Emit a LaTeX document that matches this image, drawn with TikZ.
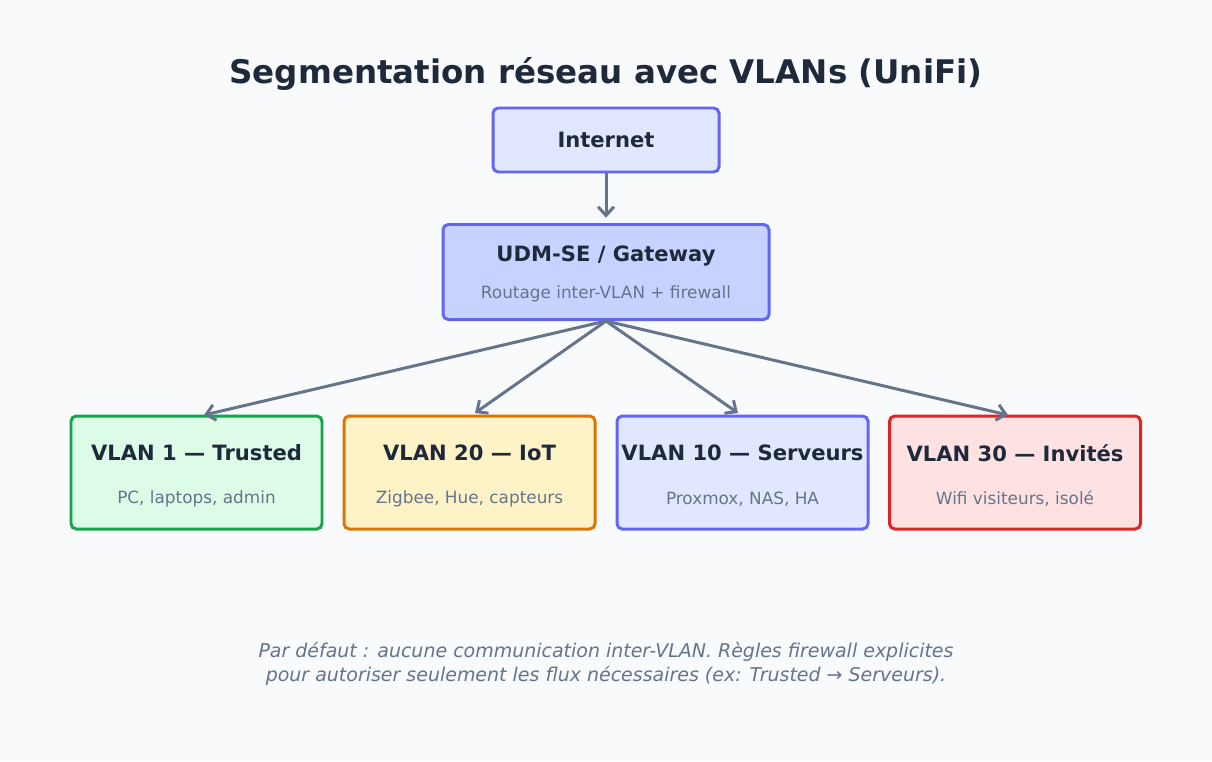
\documentclass[tikz,border=0pt]{standalone}
\usepackage{fontspec}
\setmainfont{DejaVu Sans}
\usetikzlibrary{arrows.meta}
\definecolor{bgc}{HTML}{F8FAFC}
\definecolor{ink}{HTML}{1E293B}
\definecolor{subc}{HTML}{64748B}
\definecolor{indb}{HTML}{6366F1}
\definecolor{indf}{HTML}{E0E7FF}
\definecolor{indg}{HTML}{C7D2FE}
\definecolor{grnb}{HTML}{16A34A}
\definecolor{grnf}{HTML}{DCFCE7}
\definecolor{ambb}{HTML}{D97706}
\definecolor{ambf}{HTML}{FEF3C7}
\definecolor{redb}{HTML}{DC2626}
\definecolor{redf}{HTML}{FEE2E2}
\tikzset{
  box/.style={draw, rounded corners=3pt, line width=1.7pt, inner sep=0pt},
  vlan/.style={box, minimum width=251*0.02cm, minimum height=113*0.02cm},
  head/.style={text=ink, font=\fontsize{12}{14}\selectfont\bfseries},
  sub/.style={text=subc, font=\fontsize{9.6}{11}\selectfont},
  link/.style={draw=subc, line width=1.7pt, -{Straight Barb[length=5pt,width=9pt]}}
}
\begin{document}
\begin{tikzpicture}[x=0.02cm, y=-0.02cm]
\fill[bgc] (0,0) rectangle (1212,761);
\useasboundingbox (0,0) rectangle (1212,761);
\node[text=ink, font=\fontsize{18.5}{22}\selectfont\bfseries] (title) at (606,74) {Segmentation réseau avec VLANs (UniFi)};
% top
\node[box, draw=indb, fill=indf, minimum width=226*0.02cm, minimum height=64*0.02cm] (inet) at (606,140) {};
\node[head] (inettxt) at (606,140) {Internet};
\node[box, draw=indb, fill=indg, minimum width=326*0.02cm, minimum height=95*0.02cm] (gw) at (606,272) {};
\node[head] (gwtxt) at (606,256) {UDM-SE / Gateway};
\node[sub] (gwsub) at (606,294) {Routage inter-VLAN + firewall};
% vlans
\node[vlan, draw=grnb, fill=grnf] (v1) at (196.5,472.5) {};
\node[vlan, draw=ambb, fill=ambf] (v20) at (469.5,472.5) {};
\node[vlan, draw=indb, fill=indf] (v10) at (742.5,472.5) {};
\node[vlan, draw=redb, fill=redf] (v30) at (1015,472.5) {};
\node[head] (v1t) at (196.5,453) {VLAN 1 — Trusted};
\node[sub] (v1s) at (196.5,499) {PC, laptops, admin};
\node[head] (v20t) at (469.5,453) {VLAN 20 — IoT};
\node[sub] (v20s) at (469.5,499) {Zigbee, Hue, capteurs};
\node[head] (v10t) at (742.5,453) {VLAN 10 — Serveurs};
\node[sub] (v10s) at (742.5,499) {Proxmox, NAS, HA};
\node[head] (v30t) at (1015,453) {VLAN 30 — Invités};
\node[sub] (v30s) at (1015,499) {Wifi visiteurs, isolé};
% links
\coordinate (d1) at (204,415);
\coordinate (d20) at (475,413);
\coordinate (d10) at (738,413);
\coordinate (d30) at (1008,415);
\draw[link] (inet.south) -- ([yshift=3]gw.north);
\draw[link] (gw.south) -- (d1);
\draw[link] (gw.south) -- (d20);
\draw[link] (gw.south) -- (d10);
\draw[link] (gw.south) -- (d30);
\node[sub, font=\fontsize{10.8}{13.5}\selectfont\itshape, align=center] (note) at (606,664)
  {Par défaut : aucune communication inter-VLAN. Règles firewall explicites\\pour autoriser seulement les flux nécessaires (ex: Trusted → Serveurs).};
\end{tikzpicture}
\end{document}
